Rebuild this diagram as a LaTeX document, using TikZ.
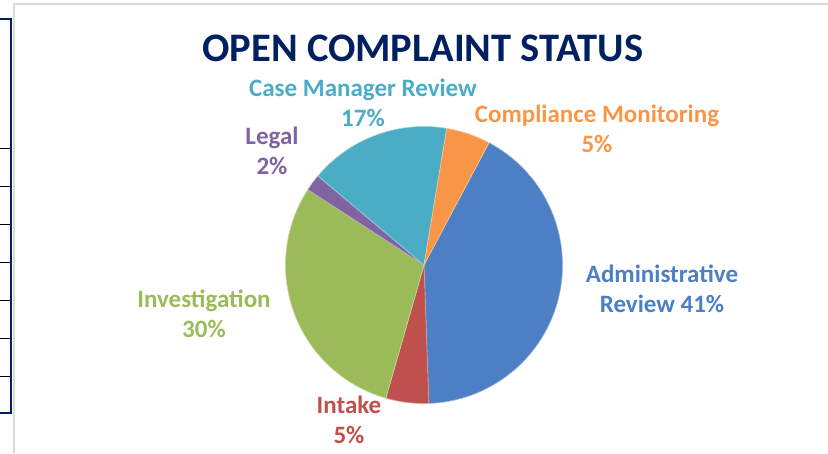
\documentclass[tikz,border=0pt]{standalone}
\usepackage{fontspec}
\setmainfont{Carlito}

\definecolor{navy}{RGB}{0,32,96}
\definecolor{adminblue}{RGB}{76,127,195}
\definecolor{intakered}{RGB}{192,80,77}
\definecolor{investgreen}{RGB}{155,187,89}
\definecolor{legalpurple}{RGB}{128,100,162}
\definecolor{casecyan}{RGB}{75,172,198}
\definecolor{complorange}{RGB}{247,150,70}

\begin{document}
\begin{tikzpicture}
[
	x=1pt, y=-1pt,
	lbl/.style = {font=\fontsize{25}{30}\selectfont\bfseries, align=center, anchor=base},
	tabrule/.style = {black, line width=0.8pt},
]
\useasboundingbox (0,0) rectangle (828,453);

% chart frame
\draw[gray!30,line width=2pt] (13.5,453) -- (13.5,3.5) -- (828,3.5);

% edge of the table on the left
\draw[navy,line width=2pt] (0,19) -- (10.5,19) -- (10.5,413) -- (0,413);
\foreach \y in {148,186,224,262,300,338,376}
\draw[tabrule] (0,\y) -- (10,\y);

\node[font=\fontsize{40.5}{46}\selectfont\bfseries, text=navy, anchor=base] (title) at (423,61) {OPEN COMPLAINT STATUS};

% pie
\begin{scope}[shift={(424,265)}, y=1pt]
\foreach \a/\b/\c in {62/-88/adminblue, -88/-106/intakered, -106/-213/investgreen, -213/-220/legalpurple, -220/-279.5/casecyan, -279.5/-298/complorange}
\filldraw[fill=\c, draw=\c!55!white, line width=0.6pt] (0,0) -- (\a:138.5) arc[start angle=\a, end angle=\b, radius=138.5] -- cycle;
\end{scope}

% labels (base = last line)
\node[lbl, text=casecyan] (case) at (363,126) {Case Manager Review\\17\%};
\node[lbl, text=legalpurple] (legal) at (272,174) {Legal\\2\%};
\node[lbl, text=complorange] (compl) at (597,152) {Compliance Monitoring\\5\%};
\node[lbl, text=adminblue] (admin) at (662,312) {Administrative\\Review 41\%};
\node[lbl, text=investgreen] (invest) at (204,337) {Investigation\\30\%};
\node[lbl, text=intakered] (intake) at (349,443) {Intake\\5\%};
\end{tikzpicture}
\end{document}
